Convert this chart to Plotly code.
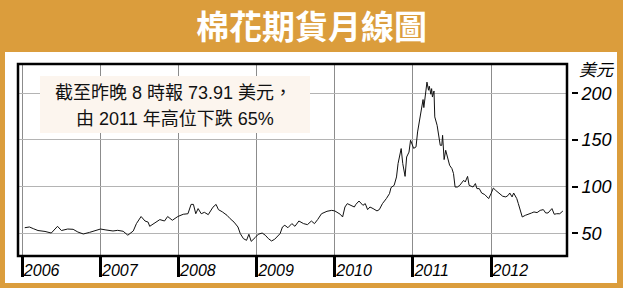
import plotly.graph_objects as go

# ---- data ----
years = [2006.03, 2006.09, 2006.14, 2006.20, 2006.29, 2006.37, 2006.45, 2006.50, 2006.58, 2006.65,
         2006.71, 2006.78, 2006.86, 2006.93, 2007.00, 2007.07, 2007.16, 2007.22, 2007.29, 2007.35,
         2007.42, 2007.46, 2007.52, 2007.57, 2007.61, 2007.63, 2007.69, 2007.76, 2007.82, 2007.86,
         2007.92, 2007.99, 2008.06, 2008.12, 2008.16, 2008.19, 2008.22, 2008.25, 2008.29, 2008.33,
         2008.38, 2008.41, 2008.44, 2008.48, 2008.51, 2008.56, 2008.62, 2008.66, 2008.71, 2008.76,
         2008.79, 2008.83, 2008.87, 2008.90, 2008.93, 2008.98, 2009.02, 2009.07, 2009.11, 2009.15,
         2009.19, 2009.23, 2009.30, 2009.33, 2009.36, 2009.40, 2009.45, 2009.49, 2009.54, 2009.60,
         2009.65, 2009.70, 2009.74, 2009.78, 2009.83, 2009.90, 2009.96, 2010.00, 2010.07, 2010.10,
         2010.13, 2010.16, 2010.20, 2010.25, 2010.27, 2010.31, 2010.36, 2010.39, 2010.42, 2010.45,
         2010.49, 2010.54, 2010.57, 2010.61, 2010.66, 2010.70, 2010.72, 2010.76, 2010.79, 2010.81,
         2010.85, 2010.87, 2010.90, 2010.92, 2010.95, 2010.97, 2011.01, 2011.04, 2011.06, 2011.08,
         2011.11, 2011.13, 2011.14, 2011.16, 2011.18, 2011.20, 2011.21, 2011.23, 2011.24, 2011.25,
         2011.27, 2011.28, 2011.31, 2011.35, 2011.37, 2011.38, 2011.40, 2011.42, 2011.44, 2011.47,
         2011.50, 2011.52, 2011.54, 2011.57, 2011.60, 2011.65, 2011.67, 2011.70, 2011.72, 2011.77,
         2011.80, 2011.82, 2011.85, 2011.88, 2011.92, 2011.97, 2012.00, 2012.03, 2012.06, 2012.11,
         2012.15, 2012.19, 2012.22, 2012.24, 2012.27, 2012.29, 2012.33, 2012.35, 2012.37, 2012.40,
         2012.44, 2012.48, 2012.52, 2012.55, 2012.59, 2012.63, 2012.67, 2012.70, 2012.73, 2012.78,
         2012.81, 2012.84, 2012.88, 2012.92]
prices = [56, 56.8, 55, 53, 52, 50.3, 57.5, 53, 54.6, 54.3,
          51.4, 49.3, 51, 53.2, 54.6, 53.6, 52.5, 53.2, 52.2, 48,
          52.5, 60.4, 68, 63.2, 62, 57.5, 61, 64.7, 63.2, 68,
          64, 68, 70.4, 71, 81, 81, 71, 76.5, 71, 72.5,
          70, 74, 78, 81, 75.4, 73, 69.3, 65.7, 62, 56.8,
          49.7, 44.3, 42.5, 49, 41.4, 45.4, 49, 50.3, 48, 44.3,
          41.8, 43.6, 49.7, 56.8, 58.6, 56, 60.4, 57.5, 63.2, 60.4,
          59.3, 63.2, 60.4, 64.7, 71, 73.6, 74.6, 74, 70.4, 67.5,
          78.2, 81.8, 80, 78.2, 81, 84.6, 80, 81.8, 75.4, 78.2,
          76.5, 74, 75.4, 81.8, 87.2, 92.5, 99, 101.4, 110.4, 124.7,
          140.8, 124.7, 111, 131.8, 137, 149.7, 141, 142.6, 158.6, 167.6,
          185.4, 193.3, 184.7, 196, 212, 203.3, 207.6, 199, 205, 196,
          202.5, 174.7, 165.7, 144.3, 144.3, 155, 129, 139, 132.5, 122.9,
          119.3, 114, 99.6, 99.6, 101.4, 106.8, 105, 111, 101.4, 99.6,
          103.3, 97.9, 97.9, 93.2, 91.5, 87.2, 92.5, 98.5, 96, 92.5,
          89.7, 89, 90.7, 93.2, 89, 93.2, 87.2, 81.8, 76.5, 67.5,
          69.3, 71, 71.8, 72.9, 72.2, 74.6, 75.4, 71.8, 71.8, 76.5,
          70.4, 71, 71, 73.9]

x_tick_vals = [2006, 2007, 2008, 2009, 2010, 2011, 2012]
x_tick_text = ["2006", "2007", "2008", "2009", "2010", "2011", "2012"]
y_tick_vals = [50, 100, 150, 200]
y_tick_text = ["50", "100", "150", "200"]

title_text = "棉花期貨月線圖"
unit_text = "美元"
note_line1 = "截至昨晚 8 時報 73.91 美元，"
note_line2 = "由 2011 年高位下跌 65%"

# ---- layout geometry ----
W, H = 623, 288
ML, MR, MT, MB = 18, 40, 64, 32
PW = W - ML - MR
PH = H - MT - MB


def px(x):
    return (x - ML) / PW


def py(y):
    return (H - MB - y) / PH


ORANGE = "#DB9D3C"
x_dom_end = px(567)

fig = go.Figure()
fig.add_trace(go.Scatter(x=years, y=prices, mode="lines",
                         line=dict(color="#111111", width=1), hoverinfo="skip"))

fig.update_layout(
    width=W, height=H,
    margin=dict(l=ML, r=MR, t=MT, b=MB, autoexpand=False),
    paper_bgcolor=ORANGE,
    plot_bgcolor="white",
    showlegend=False,
    xaxis=dict(
        domain=[0, x_dom_end],
        range=[2005.944, 2012.973],
        tickvals=x_tick_vals, ticktext=x_tick_text,
        ticks="outside", ticklen=20, tickwidth=3, tickcolor="black",
        ticklabelposition="outside right",
        tickfont=dict(family="Liberation Sans Narrow, Arial Narrow, Liberation Sans", size=16,
                      color="black", style="italic"),
        showgrid=True, gridcolor="#8c8c8c", gridwidth=1,
        showline=False, zeroline=False, automargin=False,
    ),
    yaxis=dict(
        side="right", anchor="free", position=px(571),
        range=[25.7, 231.4],
        tickvals=y_tick_vals, ticktext=y_tick_text,
        ticks="outside", ticklen=6, tickwidth=2, tickcolor="black",
        tickfont=dict(family="Liberation Sans, Arial", size=18, color="black", style="italic"),
        showgrid=True, gridcolor="#b4b4b4", gridwidth=1,
        showline=False, zeroline=False, automargin=False,
    ),
)

# white panel
fig.add_shape(type="rect", xref="paper", yref="paper", layer="below",
              x0=px(5), x1=px(617), y0=py(283), y1=py(52),
              fillcolor="white", line=dict(width=0))
# plot border
fig.add_shape(type="rect", xref="paper", yref="paper", layer="above",
              x0=0, x1=x_dom_end, y0=0, y1=1,
              fillcolor="rgba(0,0,0,0)", line=dict(color="black", width=2.5))
# note box
fig.add_shape(type="rect", xref="paper", yref="paper", layer="above",
              x0=px(40), x1=px(310), y0=py(133), y1=py(76),
              fillcolor="#FCF5EE", line=dict(width=0))

fig.add_annotation(text=title_text, xref="paper", yref="paper", x=px(311), y=py(25),
                   showarrow=False, xanchor="center", yanchor="middle",
                   font=dict(family="Noto Sans CJK TC", size=33, color="white", weight="bold"))
fig.add_annotation(text=unit_text, xref="paper", yref="paper", x=px(577), y=py(68),
                   showarrow=False, xanchor="left", yanchor="middle",
                   font=dict(family="Noto Sans CJK TC", size=17, color="black", style="italic"))
note_font = dict(family="Liberation Sans, Noto Sans CJK TC", size=18, color="#111111")
fig.add_annotation(text=note_line1, xref="paper", yref="paper", x=px(173), y=py(93),
                   showarrow=False, xanchor="center", yanchor="middle", font=note_font)
fig.add_annotation(text=note_line2, xref="paper", yref="paper", x=px(175), y=py(119),
                   showarrow=False, xanchor="center", yanchor="middle", font=note_font)

fig.write_html("out.html")
